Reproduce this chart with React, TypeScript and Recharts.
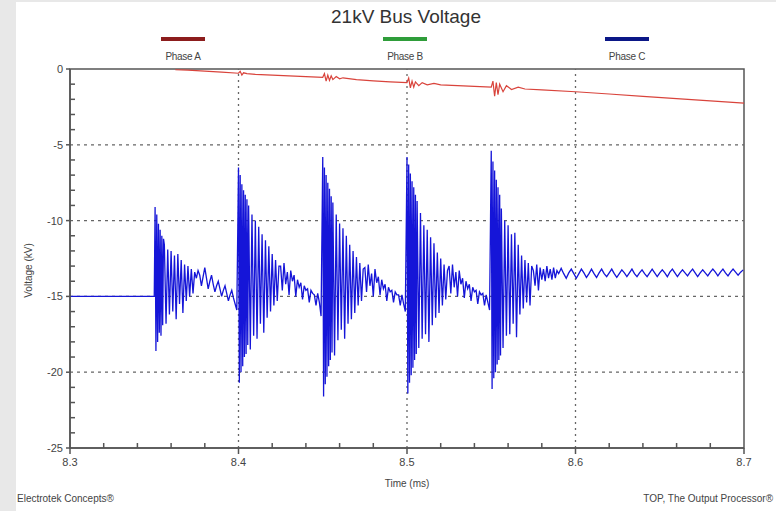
import React from 'react';
import { LineChart, Line, XAxis, YAxis, Legend, ReferenceLine, ReferenceArea } from 'recharts';

const phases = [
  { name: 'Phase A', color: '#8c1d1d' },
  { name: 'Phase B', color: '#2f9d3a' },
  { name: 'Phase C', color: '#0b1787' },
];

const xTicks = [8.3, 8.32, 8.34, 8.36, 8.38, 8.4, 8.42, 8.44, 8.46, 8.48, 8.5, 8.52, 8.54, 8.56, 8.58, 8.6, 8.62, 8.64, 8.66, 8.68, 8.7];
const yTicks = [0, -1, -2, -3, -4, -5, -6, -7, -8, -9, -10, -11, -12, -13, -14, -15, -16, -17, -18, -19, -20, -21, -22, -23, -24, -25];
const xGrid = [8.4, 8.5, 8.6];
const yGrid = [-5, -10, -15, -20];

// Phase A (kV) - slow drift with small bursts
const phaseATime = [8.3625, 8.37, 8.38, 8.39, 8.4, 8.401, 8.402, 8.403, 8.405, 8.41, 8.42, 8.43, 8.44, 8.45, 8.451, 8.452, 8.453, 8.454, 8.455, 8.456, 8.458, 8.46, 8.462, 8.47, 8.48, 8.49, 8.5, 8.501, 8.502, 8.503, 8.504, 8.505, 8.507, 8.509, 8.512, 8.516, 8.52, 8.53, 8.54, 8.55, 8.551, 8.552, 8.553, 8.554, 8.555, 8.557, 8.559, 8.562, 8.566, 8.57, 8.58, 8.6, 8.62, 8.64, 8.66, 8.68, 8.7];
const phaseAVolt = [-0.05, -0.08, -0.14, -0.2, -0.28, -0.15, -0.4, -0.25, -0.3, -0.35, -0.4, -0.45, -0.5, -0.55, -0.3, -0.8, -0.4, -0.75, -0.45, -0.7, -0.5, -0.65, -0.58, -0.7, -0.78, -0.85, -0.9, -0.6, -1.25, -0.8, -1.2, -0.85, -1.1, -0.9, -1.05, -0.95, -1.05, -1.1, -1.15, -1.2, -0.8, -1.8, -0.9, -1.7, -1.0, -1.5, -1.1, -1.35, -1.2, -1.32, -1.38, -1.5, -1.65, -1.8, -1.95, -2.1, -2.25];

// Phase C (kV): flat lead, then 5 switching bursts (dense start, spikes, ringing), then settling tail
const cLead = [-15, -15];
const cDense1 = [-9.1, -18.6, -9.6, -18.0, -10.2, -17.4, -10.6, -17.6, -11.0, -16.9, -11.2];
const cSpiky1 = [-11.6, -16.8, -11.9, -16.2, -12.0, -16.0, -12.3, -16.5, -12.2, -15.5, -12.6, -16.1, -12.9, -15.3, -13.0, -15.0, -13.2, -14.8, -13.4];
const cRing1 = [-13.8, -13.3, -13.6, -14.3, -13.7, -13.1, -13.8, -14.5, -14.0, -13.6, -14.2, -14.7, -14.3, -14.0, -14.5, -15.0, -14.6, -14.3, -14.8, -15.3, -14.9, -14.6, -15.1, -15.5, -15.9];
const cDense2 = [-6.5, -20.7, -7.0, -20.0, -7.6, -19.6, -8.0, -19.0, -8.3, -18.8, -8.6, -18.2];
const cSpiky2 = [-9.0, -18.5, -9.6, -17.6, -10.0, -17.8, -10.4, -16.8, -10.9, -17.4, -11.3, -16.4, -11.7, -16.0, -12.2, -15.6, -12.6, -15.3, -13.0];
const cRing2 = [-13.0, -14.6, -12.8, -14.2, -13.4, -14.9, -13.3, -14.0, -13.6, -15.0, -13.9, -14.4, -14.1, -15.2, -14.3, -14.6, -14.5, -15.4, -14.6, -14.8, -14.9, -15.6, -14.8, -15.4, -16.3];
const cDense3 = [-5.8, -21.6, -6.5, -20.8, -7.0, -20.3, -7.5, -19.6, -7.9, -19.2, -8.4, -18.7];
const cSpiky3 = [-8.8, -18.9, -9.6, -17.9, -10.2, -17.2, -10.5, -17.8, -11.0, -16.8, -11.6, -16.5, -12.0, -16.1, -12.4, -15.6, -12.8, -15.3, -13.2];
const cRing3 = [-13.1, -14.7, -12.9, -14.3, -13.5, -15.0, -13.2, -14.1, -13.7, -14.9, -13.9, -14.5, -14.2, -15.3, -14.4, -14.7, -14.6, -15.4, -14.7, -14.9, -14.9, -15.6, -14.9, -15.5, -16.0];
const cDense4 = [-5.8, -21.4, -6.3, -20.7, -6.9, -20.2, -7.4, -19.7, -7.8, -19.2, -8.3, -18.8];
const cSpiky4 = [-8.7, -18.4, -9.5, -17.8, -10.3, -17.5, -10.6, -18.0, -11.1, -16.9, -11.5, -16.4, -12.1, -16.1, -12.5, -15.6, -12.9, -15.2, -13.3];
const cRing4 = [-13.0, -14.8, -12.9, -14.4, -13.4, -15.0, -13.3, -14.2, -13.8, -15.1, -14.0, -14.5, -14.2, -15.3, -14.4, -14.7, -14.6, -15.5, -14.7, -14.9, -14.8, -15.6, -14.9, -15.4, -15.9];
const cDense5 = [-5.4, -21.1, -6.1, -20.4, -6.7, -20.0, -7.3, -19.5, -7.8, -19.2, -8.3, -18.9];
const cSpiky5 = [-9.2, -18.4, -10.0, -17.6, -10.3, -17.5, -10.9, -16.8, -10.8, -17.7, -11.6, -16.2, -12.3, -15.8, -12.6, -15.4, -12.8, -15.6, -13.0];
const cRing5 = [-13.3, -14.3, -12.9, -14.6, -13.1, -13.9, -13.2, -14.0, -13.0, -13.8, -13.2, -13.9, -13.1, -13.8, -13.3];
const cTail = [
  -13.5, -13.15, -13.5, -13.8, -13.45, -13.2, -13.5, -13.8, -13.5, -13.2, -13.45, -13.75,
  -13.5, -13.2, -13.5, -13.75, -13.45, -13.2, -13.5, -13.7, -13.45, -13.2, -13.5, -13.75,
  -13.5, -13.25, -13.45, -13.7, -13.45, -13.2, -13.5, -13.7, -13.45, -13.25, -13.5, -13.7,
  -13.45, -13.2, -13.45, -13.7, -13.45, -13.25, -13.45, -13.7, -13.4, -13.2, -13.45, -13.7,
  -13.45, -13.25, -13.45, -13.65, -13.4, -13.2, -13.45, -13.7, -13.45, -13.25, -13.45, -13.65,
  -13.4, -13.2, -13.4, -13.65, -13.4, -13.2, -13.45, -13.65, -13.4, -13.2, -13.4, -13.6,
  -13.4, -13.25,
];

const phaseCPieces = [
  { t0: 8.3, dt: 0.05, v: cLead },
  { t0: 8.3505, dt: 0.0005, v: cDense1 },
  { t0: 8.356, dt: 0.001, v: cSpiky1 },
  { t0: 8.375, dt: 0.001, v: cRing1 },
  { t0: 8.4, dt: 0.0005, v: cDense2 },
  { t0: 8.406, dt: 0.001, v: cSpiky2 },
  { t0: 8.425, dt: 0.001, v: cRing2 },
  { t0: 8.45, dt: 0.0005, v: cDense3 },
  { t0: 8.456, dt: 0.001, v: cSpiky3 },
  { t0: 8.475, dt: 0.001, v: cRing3 },
  { t0: 8.5, dt: 0.0005, v: cDense4 },
  { t0: 8.506, dt: 0.001, v: cSpiky4 },
  { t0: 8.525, dt: 0.001, v: cRing4 },
  { t0: 8.55, dt: 0.0005, v: cDense5 },
  { t0: 8.556, dt: 0.001, v: cSpiky5 },
  { t0: 8.575, dt: 0.001, v: cRing5 },
  { t0: 8.59, dt: 0.0015, v: cTail },
];

const phaseAData = phaseATime.map((t, i) => ({ t, v: phaseAVolt[i] }));
const phaseCData = phaseCPieces.flatMap((p) =>
  p.v.map((v, i) => ({ t: Math.round((p.t0 + i * p.dt) * 10000) / 10000, v }))
);

const FONT = '"Liberation Sans", Arial, sans-serif';
const AXIS = '#555';

const YTick = (props: any) => {
  const { x, y, payload } = props;
  const major = payload.value % 5 === 0;
  return (
    <g>
      {major ? (
        <line x1={x - 4} x2={x} y1={y} y2={y} stroke={AXIS} strokeWidth={1.5} />
      ) : (
        <line x1={x} x2={x + 5} y1={y} y2={y} stroke={AXIS} strokeWidth={1.5} />
      )}
      {major && (
        <text x={x - 7} y={y} dy={4} textAnchor="end" fontSize={11} fill="#444" fontFamily={FONT}>
          {payload.value}
        </text>
      )}
    </g>
  );
};

const XTick = (props: any) => {
  const { x, y, payload } = props;
  const major = Math.round(payload.value * 100) % 10 === 0;
  return (
    <g>
      {major ? (
        <line x1={x} x2={x} y1={y} y2={y + 6} stroke={AXIS} strokeWidth={1.5} />
      ) : (
        <line x1={x} x2={x} y1={y - 5} y2={y} stroke={AXIS} strokeWidth={1.5} />
      )}
      {major && (
        <text x={x} y={y + 18} textAnchor="middle" fontSize={11} fill="#444" fontFamily={FONT}>
          {payload.value.toFixed(1)}
        </text>
      )}
    </g>
  );
};

const legendCenters = [183, 405, 627];

const PhaseLegend = () => (
  <div style={{ position: 'relative', width: 776, height: 35, fontFamily: FONT }}>
    {phases.map((p, i) => (
      <div key={p.name} style={{ position: 'absolute', left: legendCenters[i] - 40, width: 80, top: 0, textAlign: 'center' }}>
        <div style={{ width: 44, height: 4, background: p.color, margin: '5px auto 0' }} />
        <div style={{ fontSize: 10, marginTop: 10, color: '#444', letterSpacing: -0.3 }}>{p.name}</div>
      </div>
    ))}
  </div>
);

const YLabel = (props: any) => {
  const { viewBox } = props;
  const cx = 28;
  const cy = viewBox.y + viewBox.height / 2 + 12;
  return (
    <text x={cx} y={cy} transform={`rotate(-90 ${cx} ${cy})`} textAnchor="middle" dy={4} fontSize={10} fill="#444" fontFamily={FONT}>
      Voltage (kV)
    </text>
  );
};

const App: React.FC = () => {
  return (
    <div style={{ position: 'absolute', left: 0, top: 0, width: 776, height: 511, background: '#e8e8e8', fontFamily: FONT }}>
      <div style={{ position: 'absolute', left: 16, top: 2, width: 760, height: 509, background: '#ffffff' }} />
      <div style={{ position: 'absolute', left: 0, top: 6, width: 812, textAlign: 'center', fontSize: 19, color: '#333' }}>
        21kV Bus Voltage
      </div>
      <div style={{ position: 'absolute' }}>
        <LineChart width={776} height={511} margin={{ top: 34, right: 32, bottom: 18, left: 20 }}>
          <Legend verticalAlign="top" content={<PhaseLegend />} wrapperStyle={{ top: 32, left: 0, width: 776, height: 35 }} />
          <XAxis
            type="number"
            dataKey="t"
            domain={[8.3, 8.7]}
            ticks={xTicks}
            interval={0}
            allowDataOverflow
            height={45}
            tickSize={0}
            tickMargin={0}
            tick={<XTick />}
            stroke={AXIS}
            strokeWidth={1.5}
            label={{ value: 'Time (ms)', position: 'insideBottom', offset: 6, fontSize: 10, fill: '#444', fontFamily: FONT }}
          />
          <YAxis
            type="number"
            domain={[-25, 0]}
            ticks={yTicks}
            interval={0}
            allowDataOverflow
            width={50}
            tickSize={0}
            tickMargin={0}
            tick={<YTick />}
            stroke={AXIS}
            strokeWidth={1.5}
            label={<YLabel />}
          />
          {yGrid.map((v) => (
            <ReferenceLine key={`y${v}`} y={v} stroke="#666" strokeWidth={1.3} strokeDasharray="3 4" />
          ))}
          {xGrid.map((v) => (
            <ReferenceLine key={`x${v}`} x={v} stroke="#666" strokeWidth={1.3} strokeDasharray="2 4" />
          ))}
          <ReferenceArea x1={8.3} x2={8.7} y1={-25} y2={0} fill="none" stroke={AXIS} strokeWidth={1.5} />
          <Line data={phaseAData} dataKey="v" name="Phase A" type="linear" stroke="#d9443c" strokeWidth={1.2} dot={false} isAnimationActive={false} />
          <Line data={[]} dataKey="v" name="Phase B" type="linear" stroke="#2f9d3a" strokeWidth={1} dot={false} isAnimationActive={false} />
          <Line data={phaseCData} dataKey="v" name="Phase C" type="linear" stroke="#1515d8" strokeWidth={1.3} dot={false} isAnimationActive={false} />
        </LineChart>
      </div>
      <div style={{ position: 'absolute', left: 17, top: 493, fontSize: 10, color: '#444' }}>Electrotek Concepts®</div>
      <div style={{ position: 'absolute', right: 3, top: 493, fontSize: 10, color: '#444' }}>TOP, The Output Processor®</div>
    </div>
  );
};

export default App;
